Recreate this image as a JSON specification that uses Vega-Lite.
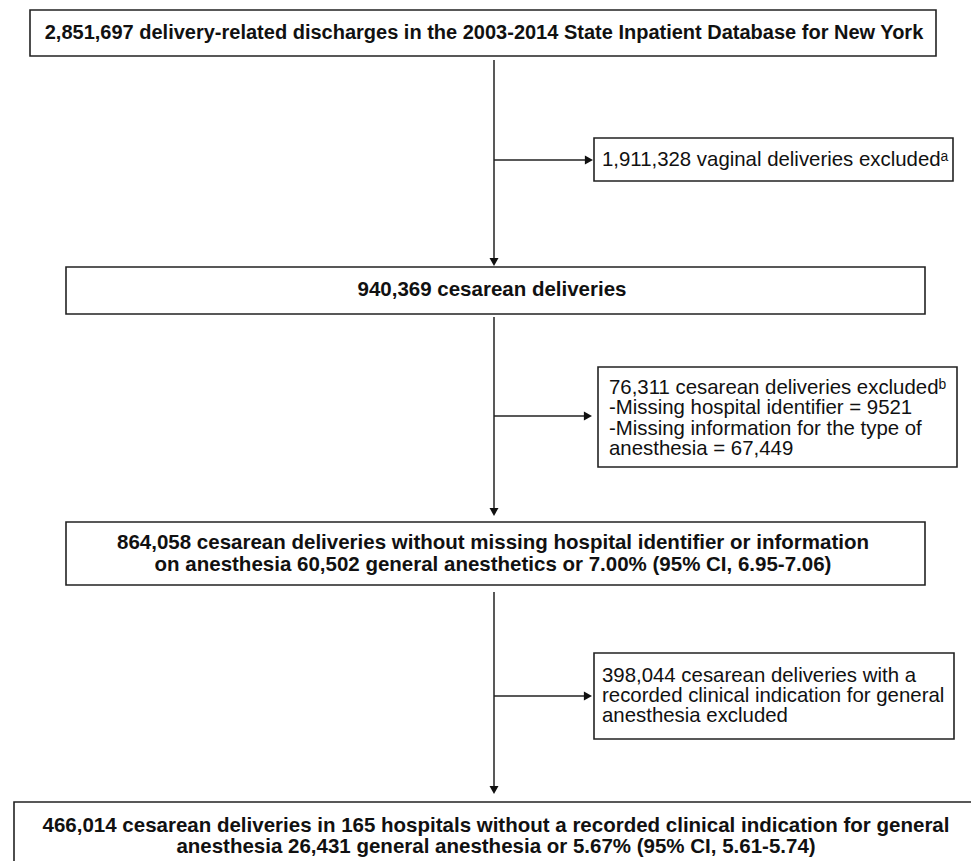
{
  "$schema": "https://vega.github.io/schema/vega-lite/v6.json",
  "width": 971,
  "height": 861,
  "autosize": {"type": "fit", "contains": "padding"},
  "padding": 0,
  "background": "white",
  "config": {"view": {"stroke": null}},
  "datasets": {
    "boxes": [
      {"step": "all discharges", "left": 30, "right": 936, "top": 10, "bottom": 56},
      {"step": "vaginal excluded", "left": 594, "right": 953, "top": 138, "bottom": 181},
      {"step": "cesarean", "left": 66, "right": 925, "top": 267, "bottom": 314},
      {"step": "missing excluded", "left": 598, "right": 957, "top": 367, "bottom": 467},
      {"step": "complete", "left": 66, "right": 925, "top": 522, "bottom": 585},
      {"step": "indication excluded", "left": 594, "right": 954, "top": 653, "bottom": 739},
      {"step": "final", "left": 14, "right": 985, "top": 802, "bottom": 880}
    ],
    "connectors": [
      {"from": "all discharges", "x0": 494, "y0": 60, "x1": 494, "y1": 262},
      {"from": "all discharges", "x0": 494, "y0": 160, "x1": 588, "y1": 160},
      {"from": "cesarean", "x0": 494, "y0": 317, "x1": 494, "y1": 512},
      {"from": "cesarean", "x0": 494, "y0": 416, "x1": 587, "y1": 416},
      {"from": "complete", "x0": 494, "y0": 592, "x1": 494, "y1": 790},
      {"from": "complete", "x0": 494, "y0": 696, "x1": 587, "y1": 696}
    ],
    "arrows": [
      {"dir": "down", "x": 494, "y": 266},
      {"dir": "right", "x": 593, "y": 160},
      {"dir": "down", "x": 494, "y": 516},
      {"dir": "right", "x": 592, "y": 416},
      {"dir": "down", "x": 494, "y": 794},
      {"dir": "right", "x": 592, "y": 696}
    ],
    "labels": [
      {"step": "all discharges", "kind": "main", "x": 484, "y": 33, "text": "2,851,697 delivery-related discharges in the 2003-2014 State Inpatient Database for New York"},
      {"step": "vaginal excluded", "kind": "excluded", "x": 602, "y": 160, "text": "1,911,328 vaginal deliveries excludedᵃ"},
      {"step": "cesarean", "kind": "main", "x": 492, "y": 290, "text": "940,369 cesarean deliveries"},
      {"step": "missing excluded", "kind": "excluded", "x": 609, "y": 388, "text": "76,311 cesarean deliveries excludedᵇ"},
      {"step": "missing excluded", "kind": "excluded", "x": 609, "y": 408, "text": "-Missing hospital identifier = 9521"},
      {"step": "missing excluded", "kind": "excluded", "x": 609, "y": 429, "text": "-Missing information for the type of"},
      {"step": "missing excluded", "kind": "excluded", "x": 609, "y": 449, "text": "anesthesia = 67,449"},
      {"step": "complete", "kind": "main", "x": 493, "y": 543, "text": "864,058 cesarean deliveries without missing hospital identifier or information"},
      {"step": "complete", "kind": "main", "x": 493, "y": 565, "text": "on anesthesia 60,502 general anesthetics or 7.00% (95% CI, 6.95-7.06)"},
      {"step": "indication excluded", "kind": "excluded", "x": 602, "y": 676, "text": "398,044 cesarean deliveries with a"},
      {"step": "indication excluded", "kind": "excluded", "x": 602, "y": 696, "text": "recorded clinical indication for general"},
      {"step": "indication excluded", "kind": "excluded", "x": 602, "y": 716, "text": "anesthesia excluded"},
      {"step": "final", "kind": "main", "x": 496, "y": 826, "text": "466,014 cesarean deliveries in 165 hospitals without a recorded clinical indication for general"},
      {"step": "final", "kind": "main", "x": 496, "y": 847, "text": "anesthesia 26,431 general anesthesia or 5.67% (95% CI, 5.61-5.74)"}
    ]
  },
  "layer": [
    {
      "data": {"name": "boxes"},
      "mark": {"type": "rect", "fill": "white", "stroke": "#222222", "strokeWidth": 1.6, "clip": true},
      "encoding": {
        "x": {"field": "left", "type": "quantitative", "scale": {"domain": [0, 971], "nice": false, "zero": false}, "axis": null},
        "x2": {"field": "right"},
        "y": {"field": "top", "type": "quantitative", "scale": {"domain": [0, 861], "nice": false, "zero": false, "reverse": true}, "axis": null},
        "y2": {"field": "bottom"}
      }
    },
    {
      "data": {"name": "connectors"},
      "mark": {"type": "rule", "stroke": "#222222", "strokeWidth": 1.5},
      "encoding": {
        "x": {"field": "x0", "type": "quantitative", "scale": {"domain": [0, 971], "nice": false, "zero": false}, "axis": null},
        "x2": {"field": "x1"},
        "y": {"field": "y0", "type": "quantitative", "scale": {"domain": [0, 861], "nice": false, "zero": false, "reverse": true}, "axis": null},
        "y2": {"field": "y1"}
      }
    },
    {
      "data": {"name": "arrows"},
      "mark": {"type": "point", "filled": true, "fill": "#111111", "stroke": null, "opacity": 1, "size": 81},
      "encoding": {
        "x": {"field": "x", "type": "quantitative", "scale": {"domain": [0, 971], "nice": false, "zero": false}, "axis": null},
        "y": {"field": "y", "type": "quantitative", "scale": {"domain": [0, 861], "nice": false, "zero": false, "reverse": true}, "axis": null},
        "shape": {"field": "dir", "type": "nominal", "scale": {"domain": ["down", "right"], "range": ["M0,0L-1,-1.8L1,-1.8Z", "M0,0L-1.8,-1L-1.8,1Z"]}, "legend": null}
      }
    },
    {
      "data": {"name": "labels"},
      "transform": [{"filter": "datum.kind === 'main' && datum.step === 'all discharges'"}],
      "mark": {"type": "text", "align": "center", "baseline": "middle", "font": "Liberation Sans", "fontWeight": "bold", "fontSize": 20, "fill": "#111111"},
      "encoding": {
        "x": {"field": "x", "type": "quantitative", "scale": {"domain": [0, 971], "nice": false, "zero": false}, "axis": null},
        "y": {"field": "y", "type": "quantitative", "scale": {"domain": [0, 861], "nice": false, "zero": false, "reverse": true}, "axis": null},
        "text": {"field": "text"}
      }
    },
    {
      "data": {"name": "labels"},
      "transform": [{"filter": "datum.kind === 'main' && datum.step !== 'all discharges'"}],
      "mark": {"type": "text", "align": "center", "baseline": "middle", "font": "Liberation Sans", "fontWeight": "bold", "fontSize": 20.5, "fill": "#111111"},
      "encoding": {
        "x": {"field": "x", "type": "quantitative", "scale": {"domain": [0, 971], "nice": false, "zero": false}, "axis": null},
        "y": {"field": "y", "type": "quantitative", "scale": {"domain": [0, 861], "nice": false, "zero": false, "reverse": true}, "axis": null},
        "text": {"field": "text"}
      }
    },
    {
      "data": {"name": "labels"},
      "transform": [{"filter": "datum.kind === 'excluded'"}],
      "mark": {"type": "text", "align": "left", "baseline": "middle", "font": "Liberation Sans", "fontSize": 20.4, "fill": "#111111"},
      "encoding": {
        "x": {"field": "x", "type": "quantitative", "scale": {"domain": [0, 971], "nice": false, "zero": false}, "axis": null},
        "y": {"field": "y", "type": "quantitative", "scale": {"domain": [0, 861], "nice": false, "zero": false, "reverse": true}, "axis": null},
        "text": {"field": "text"}
      }
    }
  ]
}
